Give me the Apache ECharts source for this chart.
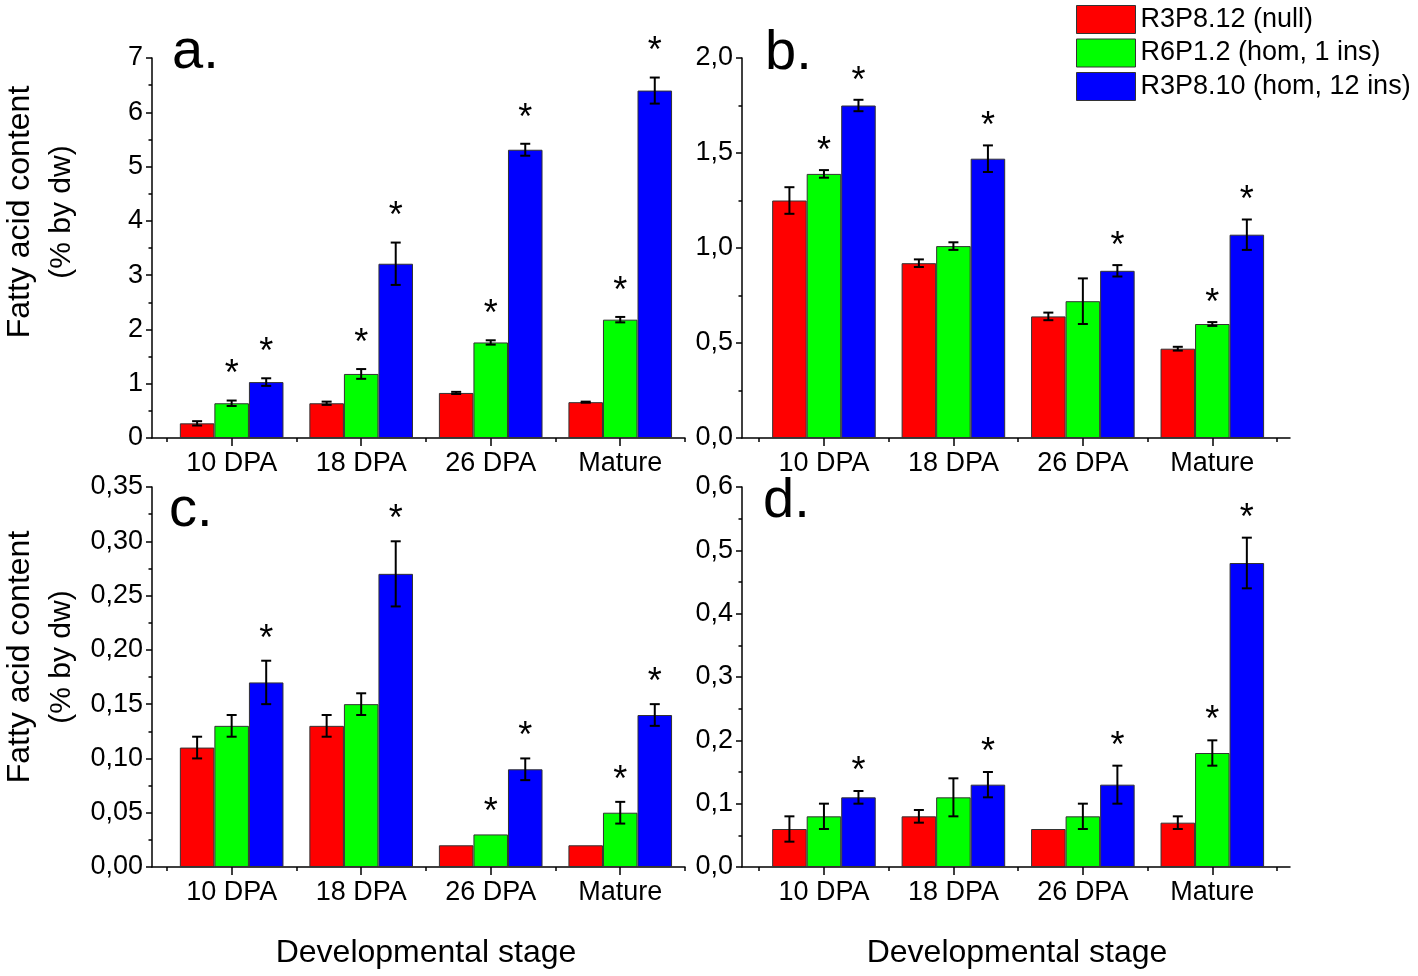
<!DOCTYPE html>
<html>
<head>
<meta charset="utf-8">
<title>Fatty acid content</title>
<script src="https://cdn.jsdelivr.net/npm/echarts@6/dist/echarts.min.js"></script>
<style>
  html, body { margin: 0; padding: 0; background: #fff; }
  #chart { width: 1418px; height: 976px; }
</style>
</head>
<body>
<div id="chart"></div>
<script>
"use strict";

const stages = ['10 DPA', '18 DPA', '26 DPA', 'Mature'];
const lines = ['R3P8.12 (null)', 'R6P1.2 (hom, 1 ins)', 'R3P8.10 (hom, 12 ins)'];
const colors = ['#ff0000', '#00ff00', '#0000ff'];

// rows: null, 1 ins, 12 ins ; columns: stages
const aMeans = [[0.27, 0.64, 0.83, 0.66], [0.64, 1.18, 1.76, 2.18], [1.03, 3.21, 5.31, 6.40]];
const aErrors = [[0.04, 0.03, 0.02, 0.01], [0.05, 0.09, 0.04, 0.05], [0.07, 0.39, 0.11, 0.24]];
const aStars = [[0, 0, 0, 0], [1, 1, 1, 1], [1, 1, 1, 1]];

const bMeans = [[1.25, 0.92, 0.64, 0.47], [1.39, 1.01, 0.72, 0.60], [1.75, 1.47, 0.88, 1.07]];
const bErrors = [[0.07, 0.02, 0.02, 0.01], [0.02, 0.02, 0.12, 0.01], [0.03, 0.07, 0.03, 0.08]];
const bStars = [[0, 0, 0, 0], [1, 0, 0, 1], [1, 1, 1, 1]];

const cMeans = [[0.11, 0.13, 0.02, 0.02], [0.13, 0.15, 0.03, 0.05], [0.17, 0.27, 0.09, 0.14]];
const cErrors = [[0.01, 0.01, 0, 0], [0.01, 0.01, 0, 0.01], [0.02, 0.03, 0.01, 0.01]];
const cStars = [[0, 0, 0, 0], [0, 0, 1, 1], [1, 1, 1, 1]];

const dMeans = [[0.06, 0.08, 0.06, 0.07], [0.08, 0.11, 0.08, 0.18], [0.11, 0.13, 0.13, 0.48]];
const dErrors = [[0.02, 0.01, 0, 0.01], [0.02, 0.03, 0.02, 0.02], [0.01, 0.02, 0.03, 0.04]];
const dStars = [[0, 0, 0, 0], [0, 0, 0, 1], [1, 1, 1, 1]];

const FONT = '"Liberation Sans", Arial, sans-serif';

const panels = [
  {letter: 'a.', means: aMeans, errors: aErrors, stars: aStars, left: 152, top: 58, width: 533, xMin: 0.385, xMax: 4.5,
   yMax: 7, yStep: 1, digits: 0, starGap: 33, lx: 172, ly: 53},
  {letter: 'b.', means: bMeans, errors: bErrors, stars: bStars, left: 742, top: 58, width: 548, xMin: 0.367, xMax: 4.6,
   yMax: 2, yStep: 0.5, digits: 1, starGap: 26, lx: 765, ly: 54},
  {letter: 'c.', means: cMeans, errors: cErrors, stars: cStars, left: 152, top: 487, width: 533, xMin: 0.385, xMax: 4.5,
   yMax: 0.35, yStep: 0.05, digits: 2, starGap: 29, lx: 169, ly: 511},
  {letter: 'd.', means: dMeans, errors: dErrors, stars: dStars, left: 742, top: 487, width: 548, xMin: 0.367, xMax: 4.6,
   yMax: 0.6, yStep: 0.1, digits: 1, starGap: 27, lx: 763, ly: 502}
];

const chart = echarts.init(document.getElementById('chart'));

const grid = [], xAxis = [], yAxis = [], series = [], graphic = [];
const axisLine = {show: true, onZero: false, lineStyle: {color: '#000', width: 1.5}};

panels.forEach((p, pi) => {
  grid.push({left: p.left, top: p.top, width: p.width, height: 380});
  // major ticks + labels
  xAxis.push({
    type: 'value', gridIndex: pi, min: p.xMin, max: p.xMax, position: 'bottom',
    axisLine: axisLine, splitLine: {show: false},
    axisTick: {show: true, length: 8, customValues: [1, 2, 3, 4], lineStyle: {color: '#000', width: 1.5}},
    axisLabel: {customValues: [1, 2, 3, 4], formatter: v => stages[Math.round(v) - 1],
      color: '#000', fontSize: 27, fontFamily: FONT, margin: 12}
  });
  // half-step minor ticks
  xAxis.push({
    type: 'value', gridIndex: pi, min: p.xMin, max: p.xMax, position: 'bottom',
    axisLine: {show: false}, splitLine: {show: false}, axisLabel: {show: false},
    axisTick: {show: true, length: 4, customValues: [0.5, 1.5, 2.5, 3.5, 4.5], lineStyle: {color: '#000', width: 1.5}}
  });
  yAxis.push({
    type: 'value', gridIndex: pi, min: 0, max: p.yMax, interval: p.yStep,
    axisLine: axisLine, splitLine: {show: false},
    axisTick: {show: true, length: 6, lineStyle: {color: '#000', width: 1.5}},
    minorTick: {show: true, splitNumber: 2, length: 3.5, lineStyle: {color: '#000', width: 1.5}},
    axisLabel: {color: '#000', fontSize: 27, fontFamily: FONT, margin: 9,
      formatter: v => v.toFixed(p.digits).replace('.', ',')}
  });

  const xi = pi * 2;
  for (let k = 0; k < 3; k++) {
    series.push({
      type: 'bar', name: lines[k], xAxisIndex: xi, yAxisIndex: pi,
      data: p.means[k].map((v, i) => [i + 1, v]),
      barGap: '0%', barCategoryGap: '20%',
      itemStyle: {color: colors[k], borderColor: '#333', borderWidth: 1}
    });
    series.push({
      type: 'custom', xAxisIndex: xi, yAxisIndex: pi, silent: true, z: 5,
      encode: {x: 0, y: 1},
      data: p.means[k].map((v, i) => [i + 1, v, p.errors[k][i], p.stars[k][i]]),
      renderItem: (params, api) => {
        const x = api.value(0), m = api.value(1), e = api.value(2), s = api.value(3);
        const band = api.size([1, 0])[0];
        const dx = band * 0.8 / 3 * (k - 1);
        const top = api.coord([x, m + e]);
        const bot = api.coord([x, m - e]);
        const cx = top[0] + dx;
        const st = {stroke: '#000', lineWidth: 2};
        const children = [];
        if (e > 0) {
          children.push({type: 'line', shape: {x1: cx, y1: top[1], x2: cx, y2: bot[1]}, style: st});
          children.push({type: 'line', shape: {x1: cx - 5, y1: top[1], x2: cx + 5, y2: top[1]}, style: st});
          children.push({type: 'line', shape: {x1: cx - 5, y1: bot[1], x2: cx + 5, y2: bot[1]}, style: st});
        }
        if (s) {
          children.push({type: 'text', style: {text: '*', x: cx, y: top[1] - p.starGap + 8,
            align: 'center', verticalAlign: 'middle', font: '36px ' + FONT, fill: '#000'}});
        }
        return {type: 'group', children: children};
      }
    });
  }

  graphic.push({type: 'text', x: p.lx, y: p.ly, silent: true,
    style: {text: p.letter, font: '56px ' + FONT, fill: '#000', align: 'left', verticalAlign: 'middle'}});
});

// axis titles
[212, 657].forEach(cy => {
  graphic.push({type: 'text', x: 20, y: cy, rotation: Math.PI / 2, silent: true,
    style: {text: 'Fatty acid content', font: '32px ' + FONT, fill: '#000', align: 'center', verticalAlign: 'middle'}});
  graphic.push({type: 'text', x: 62, y: cy, rotation: Math.PI / 2, silent: true,
    style: {text: '(% by dw)', font: '30px ' + FONT, fill: '#000', align: 'center', verticalAlign: 'middle'}});
});
[426, 1017].forEach(cx => {
  graphic.push({type: 'text', x: cx, y: 953, silent: true,
    style: {text: 'Developmental stage', font: '32px ' + FONT, fill: '#000', align: 'center', verticalAlign: 'middle'}});
});

chart.setOption({
  animation: false,
  backgroundColor: '#fff',
  legend: {
    data: lines, orient: 'vertical', left: 1076, top: 5, padding: 0,
    itemWidth: 59, itemHeight: 28, itemGap: 4.5, icon: 'rect', selectedMode: false,
    itemStyle: {borderColor: '#333', borderWidth: 1},
    textStyle: {fontSize: 27, color: '#000', fontFamily: FONT}
  },
  grid: grid,
  xAxis: xAxis,
  yAxis: yAxis,
  series: series,
  graphic: graphic
});
</script>
</body>
</html>
